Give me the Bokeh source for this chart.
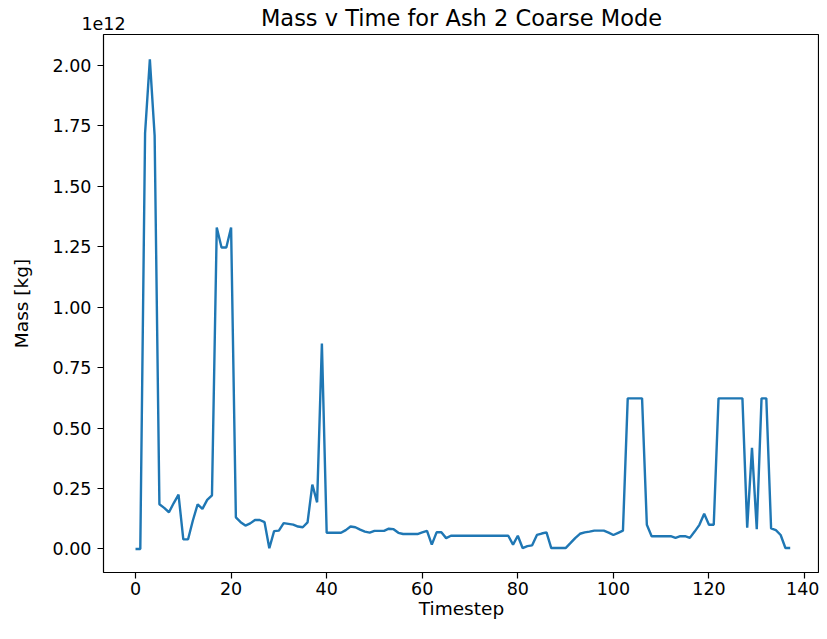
from bokeh.plotting import figure
from bokeh.models import Range1d, FixedTicker, NumeralTickFormatter, LinearAxis
from bokeh.embed import file_html
from bokeh.resources import INLINE

# ---- data (mass in units of 1e12 kg, one value per timestep) ----
timesteps = list(range(138))
mass_1e12 = [
    0.0, 0.0, 1.72, 2.025, 1.71, 0.185, 0.17, 0.152, 0.19, 0.225,          # 0-9
    0.04, 0.04, 0.118, 0.185, 0.166, 0.203, 0.222, 1.33, 1.247, 1.247,     # 10-19
    1.33, 0.131, 0.111, 0.097, 0.106, 0.12, 0.12, 0.111, 0.003, 0.074,     # 20-29
    0.076, 0.107, 0.104, 0.101, 0.093, 0.09, 0.11, 0.266, 0.193, 0.85,     # 30-39
    0.067, 0.067, 0.067, 0.067, 0.078, 0.093, 0.09, 0.08, 0.072, 0.068,    # 40-49
    0.075, 0.075, 0.075, 0.084, 0.082, 0.067, 0.062, 0.062, 0.062, 0.062,  # 50-59
    0.069, 0.075, 0.018, 0.069, 0.069, 0.045, 0.055, 0.055, 0.055, 0.055, # 60-69
    0.055, 0.055, 0.055, 0.055, 0.055, 0.055, 0.055, 0.055, 0.055, 0.018, # 70-79
    0.055, 0.004, 0.012, 0.015, 0.058, 0.064, 0.069, 0.004, 0.004, 0.004,  # 80-89
    0.004, 0.024, 0.045, 0.063, 0.069, 0.072, 0.076, 0.076, 0.076, 0.068,  # 90-99
    0.058, 0.067, 0.076, 0.623, 0.623, 0.623, 0.623, 0.10, 0.053, 0.053,   # 100-109
    0.053, 0.053, 0.053, 0.046, 0.053, 0.053, 0.046, 0.072, 0.10, 0.146,   # 110-119
    0.10, 0.10, 0.623, 0.623, 0.623, 0.623, 0.623, 0.623, 0.088, 0.418,    # 120-129
    0.082, 0.623, 0.623, 0.085, 0.078, 0.058, 0.004, 0.004,                # 130-137
]
x_ticks = [0, 20, 40, 60, 80, 100, 120, 140]
y_ticks = [0.0, 0.25, 0.5, 0.75, 1.0, 1.25, 1.5, 1.75, 2.0]
title_text = "Mass v Time for Ash 2 Coarse Mode"
x_label = "Timestep"
y_label = "Mass [kg]"
offset_text = "1e12"

FONT = "DejaVu Sans"
X0, X1 = -6.70, 143.13
Y0, Y1 = -0.0972, 2.128

p = figure(width=819, height=623, output_backend="svg", toolbar_location=None,
           x_range=Range1d(X0, X1), y_range=Range1d(Y0, Y1),
           min_border_left=103, min_border_right=0,
           min_border_top=34, min_border_bottom=51)

p.line(timesteps, mass_1e12, line_color="#1f77b4", line_width=2.4)

p.xgrid.visible = False
p.ygrid.visible = False
p.outline_line_color = "black"
p.outline_line_width = 1.2
p.outline_line_alpha = 1.0
p.background_fill_color = "white"
p.border_fill_color = "white"

p.xaxis.ticker = FixedTicker(ticks=x_ticks)
p.yaxis.ticker = FixedTicker(ticks=y_ticks)
p.yaxis.formatter = NumeralTickFormatter(format="0.00")

for ax in (p.xaxis[0], p.yaxis[0]):
    ax.axis_line_color = None
    ax.major_tick_in = 0
    ax.major_tick_out = 6
    ax.major_tick_line_color = "black"
    ax.major_tick_line_width = 1.2
    ax.minor_tick_line_color = None
    ax.major_label_text_font = FONT
    ax.major_label_text_font_size = "17.5px"
    ax.major_label_text_color = "black"
    ax.axis_label_text_font = FONT
    ax.axis_label_text_font_size = "18.5px"
    ax.axis_label_text_font_style = "normal"
    ax.axis_label_text_color = "black"

p.xaxis.major_label_standoff = 3
p.xaxis.axis_label_standoff = 0
p.yaxis.major_label_standoff = 6
p.yaxis.axis_label_standoff = 18

p.xaxis.axis_label = x_label
p.yaxis.axis_label = y_label

# Top band: the "1e12" offset text (as a single left-aligned tick label at the
# frame's left edge) and the chart title (as this band's axis label).
p.extra_x_ranges = {"top_band": Range1d(0, 1)}
top = LinearAxis(x_range_name="top_band", ticker=FixedTicker(ticks=[0]),
                 major_label_overrides={0: offset_text})
top.axis_line_color = None
top.major_tick_line_color = None
top.minor_tick_line_color = None
top.major_tick_in = 0
top.major_tick_out = 0
top.major_label_standoff = 5
top.major_label_text_align = "left"
top.major_label_text_font = FONT
top.major_label_text_font_size = "17.5px"
top.major_label_text_color = "black"
top.axis_label = title_text
top.axis_label_standoff = -17
top.axis_label_text_font = FONT
top.axis_label_text_font_size = "22.5px"
top.axis_label_text_font_style = "normal"
top.axis_label_text_color = "black"
p.add_layout(top, "above")

open("out.html", "w").write(file_html(p, INLINE))
